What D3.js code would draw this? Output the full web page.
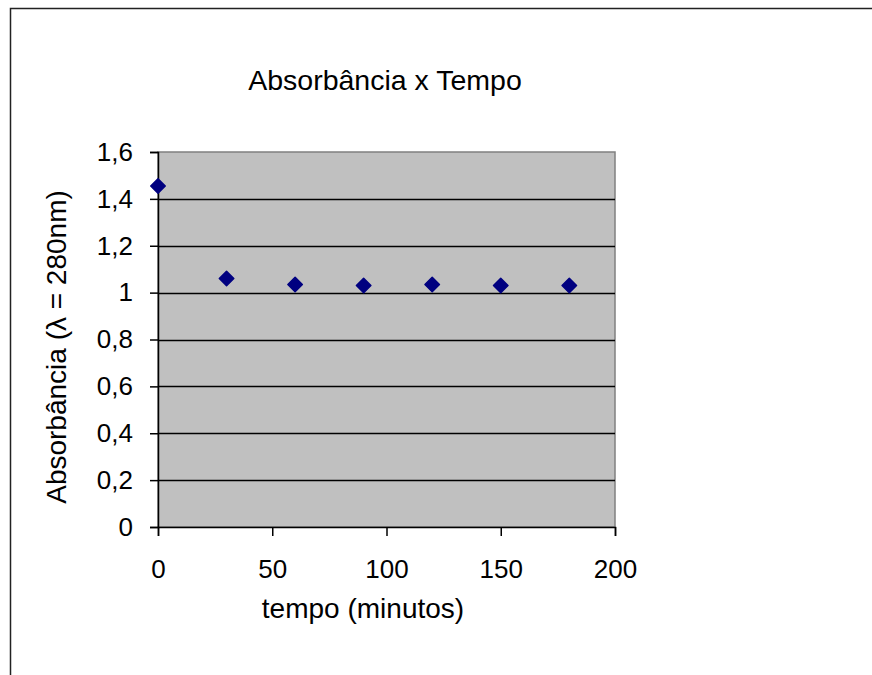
<!DOCTYPE html>
<html>
<head>
<meta charset="utf-8">
<script src="https://cdn.jsdelivr.net/npm/d3@7"></script>
<style>
  html, body { margin: 0; padding: 0; background: #fff; }
  svg { display: block; font-family: "Liberation Sans", Arial, sans-serif; }
</style>
</head>
<body>
<svg id="chart" width="872" height="675"></svg>
<script>
const timeMinutes = [0, 30, 60, 90, 120, 150, 180];
const absorbance = [1.455, 1.06, 1.035, 1.03, 1.035, 1.03, 1.03];
const xTicks = [0, 50, 100, 150, 200];
const yTicks = [0, 0.2, 0.4, 0.6, 0.8, 1, 1.2, 1.4, 1.6];
const titleText = "Absorbância x Tempo";
const xLabelText = "tempo (minutos)";
const yLabelText = "Absorbância (λ = 280nm)";

const svg = d3.select("#chart");

// outer chart border (extends past the window like the reference)
svg.append("rect")
  .attr("x", 10.5).attr("y", 8.5).attr("width", 900).attr("height", 700)
  .attr("fill", "none").attr("stroke", "#222").attr("stroke-width", 1.5);

const x = d3.scaleLinear().domain([0, 200]).range([158, 615]);
const y = d3.scaleLinear().domain([0, 1.6]).range([527, 152]);

// plot area
svg.append("rect")
  .attr("x", x(0)).attr("y", y(1.6))
  .attr("width", x(200) - x(0)).attr("height", y(0) - y(1.6))
  .attr("fill", "#c0c0c0").attr("stroke", "#808080").attr("stroke-width", 1.5);

// gridlines
svg.append("g").selectAll("line")
  .data(yTicks.filter(d => d > 0 && d < 1.6))
  .join("line")
  .attr("x1", x(0)).attr("x2", x(200))
  .attr("y1", d => Math.round(y(d)) + 0.5).attr("y2", d => Math.round(y(d)) + 0.5)
  .attr("stroke", "#000").attr("stroke-width", 1.7);

const fmt = d => d3.format(".1~f")(d).replace(".", ",");

// y axis
const yAxis = svg.append("g")
  .attr("transform", `translate(${x(0)},0)`)
  .call(d3.axisLeft(y).tickValues(yTicks).tickFormat(fmt).tickSize(8).tickPadding(17));
yAxis.select(".domain").attr("stroke", "#000").attr("stroke-width", 1.5);
yAxis.selectAll(".tick line").attr("stroke", "#000").attr("stroke-width", 1.5);
yAxis.selectAll("text").attr("font-size", 26).attr("fill", "#000")
  .attr("font-family", "'Liberation Sans', Arial, sans-serif");

// x axis
const xAxis = svg.append("g")
  .attr("transform", `translate(0,${y(0)})`)
  .call(d3.axisBottom(x).tickValues(xTicks).tickFormat(d3.format("d")).tickSize(9).tickPadding(24));
xAxis.select(".domain").attr("stroke", "#000").attr("stroke-width", 1.5);
xAxis.selectAll(".tick line").attr("stroke", "#000").attr("stroke-width", 1.5);
xAxis.selectAll("text").attr("font-size", 26).attr("fill", "#000")
  .attr("font-family", "'Liberation Sans', Arial, sans-serif");

// markers
const diamond = d3.symbol().type(d3.symbolSquare).size(105);
svg.append("g").selectAll("path")
  .data(timeMinutes.map((t, i) => ({ t, v: absorbance[i] })))
  .join("path")
  .attr("d", diamond)
  .attr("transform", d => `translate(${x(d.t)},${y(d.v)}) rotate(45)`)
  .attr("fill", "#000080").attr("stroke", "#000080").attr("stroke-width", 1.5)
  .attr("stroke-linejoin", "round");

// title
svg.append("text")
  .attr("x", 385).attr("y", 90)
  .attr("text-anchor", "middle").attr("font-size", 28.5).attr("fill", "#000")
  .text(titleText);

// x label
svg.append("text")
  .attr("x", 363).attr("y", 618)
  .attr("text-anchor", "middle").attr("font-size", 28).attr("fill", "#000")
  .text(xLabelText);

// y label
svg.append("text")
  .attr("transform", "translate(66,347) rotate(-90)")
  .attr("text-anchor", "middle").attr("font-size", 28).attr("fill", "#000")
  .text(yLabelText);
</script>
</body>
</html>
